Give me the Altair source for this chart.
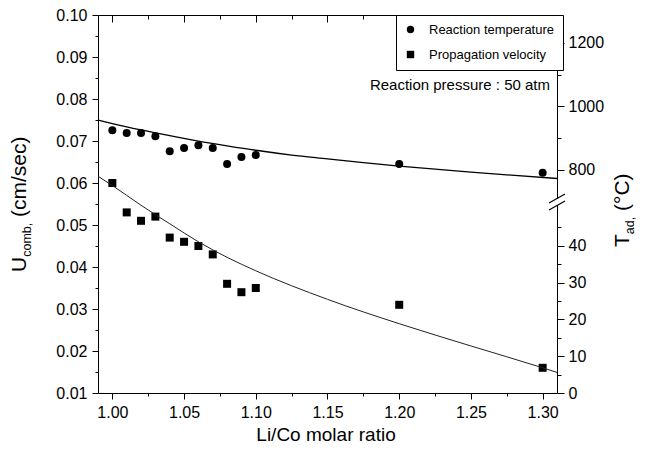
import altair as alt
import pandas as pd

# ---------------- data ----------------
ratio = [1.00, 1.01, 1.02, 1.03, 1.04, 1.05, 1.06, 1.07, 1.08, 1.09, 1.10, 1.20, 1.30]
temperature = [925, 916, 916, 906, 859, 869, 878, 869, 819, 841, 847, 819, 791]
velocity = [0.060, 0.053, 0.051, 0.052, 0.047, 0.046, 0.045, 0.043, 0.036, 0.034, 0.035, 0.031, 0.016]

fit_ratio_t = [0.99, 1.00, 1.02, 1.04, 1.06, 1.08, 1.10, 1.125, 1.15, 1.175, 1.20, 1.25, 1.31]
fit_temp = [957, 946, 926, 908, 891, 876, 862, 847, 835, 823, 812, 793, 773]
fit_ratio_v = [0.99, 1.00, 1.02, 1.04, 1.06, 1.08, 1.10, 1.15, 1.20, 1.25, 1.30, 1.31]
fit_vel = [0.0616, 0.0594, 0.0547, 0.0503, 0.0460, 0.0423, 0.0391, 0.0323, 0.0265, 0.0212, 0.0160, 0.0149]

series_names = ["Reaction temperature", "Propagation velocity"]
annotation = "Reaction pressure : 50 atm"
x_title = "Li/Co molar ratio"
left_title = ["U", "comb,", "(cm/sec)"]
right_title = ["T", "ad,", "(\u00b0C)"]

x_major = [1.00, 1.05, 1.10, 1.15, 1.20, 1.25, 1.30]
x_minor = [1.025, 1.075, 1.125, 1.175, 1.225, 1.275]
yl_major = [0.01, 0.02, 0.03, 0.04, 0.05, 0.06, 0.07, 0.08, 0.09, 0.10]
yl_minor = [0.015, 0.025, 0.035, 0.045, 0.055, 0.065, 0.075, 0.085, 0.095]
yr_major = [0, 10, 20, 30, 40, 800, 1000, 1200]
yr_minor = [5, 15, 25, 35, 45, 900, 1100]

# ---------------- tables ----------------
df_v = pd.DataFrame({"ratio": ratio, "value": velocity, "series": series_names[1]})
df_t = pd.DataFrame({"ratio": ratio, "value": temperature, "series": series_names[0]})
fit_v = pd.DataFrame({"ratio": fit_ratio_v, "value": fit_vel})
fit_t = pd.DataFrame({"ratio": fit_ratio_t, "value": fit_temp})
one = pd.DataFrame({"k": [0]})

W, H = 459, 378
FONT = "Liberation Sans"

xs = alt.Scale(domain=[0.99, 1.31], nice=False, zero=False)
yls = alt.Scale(domain=[0.01, 0.10], nice=False, zero=False)
yrs = alt.Scale(domain=[0, 48, 740, 1288], range=[378, 201.4, 174, 0], nice=False, zero=False)

shape_scale = alt.Scale(domain=series_names, range=["circle", "square"])
legend = alt.Legend(
    title=None, orient="none", legendX=298, legendY=0,
    strokeColor="black", fillColor="white", padding=8, rowPadding=11,
    labelFont=FONT, labelFontSize=13, labelColor="black", labelOffset=12,
    symbolSize=55, symbolFillColor="black", symbolStrokeWidth=0,
    cornerRadius=0,
)

def ax(orient, values, size, labels=True, fmt=None, offset=0, pad=5):
    kw = dict(orient=orient, values=values, tickSize=size, labels=labels, domain=False,
              grid=False, title=None, tickColor="black", tickWidth=1,
              labelFont=FONT, labelFontSize=16, labelColor="black", labelPadding=pad,
              offset=offset)
    if fmt:
        kw["format"] = fmt
    return alt.Axis(**kw)

# velocity points (left axis + bottom axis)
vel_pts = alt.Chart(df_v).mark_point(filled=True, size=64, opacity=1, color="black").encode(
    x=alt.X("ratio:Q", scale=xs, axis=ax("bottom", x_major, 6, fmt=".2f", pad=5)),
    y=alt.Y("value:Q", scale=yls, axis=ax("left", yl_major, 6, fmt=".2f", pad=5)),
    shape=alt.Shape("series:N", scale=shape_scale, legend=legend),
)
vel_line = alt.Chart(fit_v).mark_line(color="#222222", strokeWidth=1, interpolate="monotone").encode(
    x=alt.X("ratio:Q", scale=xs, axis=None),
    y=alt.Y("value:Q", scale=yls, axis=None),
)
# temperature points (right axis + top axis)
tmp_pts = alt.Chart(df_t).mark_point(filled=True, size=64, opacity=1, color="black").encode(
    x=alt.X("ratio:Q", scale=xs, axis=ax("top", x_major, 7, labels=False, offset=-7)),
    y=alt.Y("value:Q", scale=yrs, axis=ax("right", yr_major, 7, fmt="d", pad=4)),
    shape=alt.Shape("series:N", scale=shape_scale, legend=legend),
)
tmp_line = alt.Chart(fit_t).mark_line(color="black", strokeWidth=1.3, interpolate="monotone").encode(
    x=alt.X("ratio:Q", scale=xs, axis=None),
    y=alt.Y("value:Q", scale=yrs, axis=None),
)
# minor tick carriers
minor_a = alt.Chart(df_v).mark_point(opacity=0).encode(
    x=alt.X("ratio:Q", scale=xs, axis=ax("bottom", x_minor, 3, labels=False)),
    y=alt.Y("value:Q", scale=yls, axis=ax("left", yl_minor, 3, labels=False)),
)
minor_b = alt.Chart(df_t).mark_point(opacity=0).encode(
    x=alt.X("ratio:Q", scale=xs, axis=ax("top", x_minor, 4, labels=False, offset=-4)),
    y=alt.Y("value:Q", scale=yrs, axis=ax("right", yr_minor, 4, labels=False)),
)

# annotation
note = alt.Chart(one).mark_text(align="right", baseline="middle", font=FONT, fontSize=15,
                                color="black", text=annotation).encode(
    x=alt.value(452), y=alt.value(70))

# axis titles
xt = alt.Chart(one).mark_text(align="center", baseline="alphabetic", font=FONT, fontSize=19,
                              color="black", text=x_title).encode(x=alt.value(228), y=alt.value(426))

def rtxt(t, size, x, y):
    return alt.Chart(one).mark_text(align="left", baseline="alphabetic", angle=270, font=FONT,
                                    fontSize=size, color="black", text=t).encode(
        x=alt.value(x), y=alt.value(y))

lt = [rtxt(left_title[0], 21, -72, 257), rtxt(left_title[1], 12.5, -67, 241.8),
      rtxt(left_title[2], 21, -72, 202)]
rt = [rtxt(right_title[0], 21, 531, 232), rtxt(right_title[1], 12.5, 536, 219.2),
      rtxt(right_title[2], 21, 531, 196)]

# axis break marks on the right axis
gap = alt.Chart(one).mark_rect(color="white").encode(
    x=alt.value(455), x2=alt.value(463), y=alt.value(184), y2=alt.value(190))
brk1 = alt.Chart(one).mark_rule(color="black", strokeWidth=1.2).encode(
    x=alt.value(451), x2=alt.value(467), y=alt.value(188), y2=alt.value(179))
brk2 = alt.Chart(one).mark_rule(color="black", strokeWidth=1.2).encode(
    x=alt.value(451), x2=alt.value(467), y=alt.value(195), y2=alt.value(186))

chart = alt.layer(
    vel_pts, vel_line, tmp_pts, tmp_line, minor_a, minor_b, note, xt, *lt, *rt, gap, brk1, brk2
).resolve_scale(x="independent", y="independent").resolve_axis(
    x="independent", y="independent"
).properties(
    width=W, height=H,
    autosize=alt.AutoSizeParams(type="none"),
    padding={"left": 90, "top": 7, "right": 89, "bottom": 53},
    background="white",
).configure_view(stroke="black", strokeWidth=1).configure_axis(grid=False)

chart.save("out.html", embed_options={"renderer": "svg", "actions": False})
